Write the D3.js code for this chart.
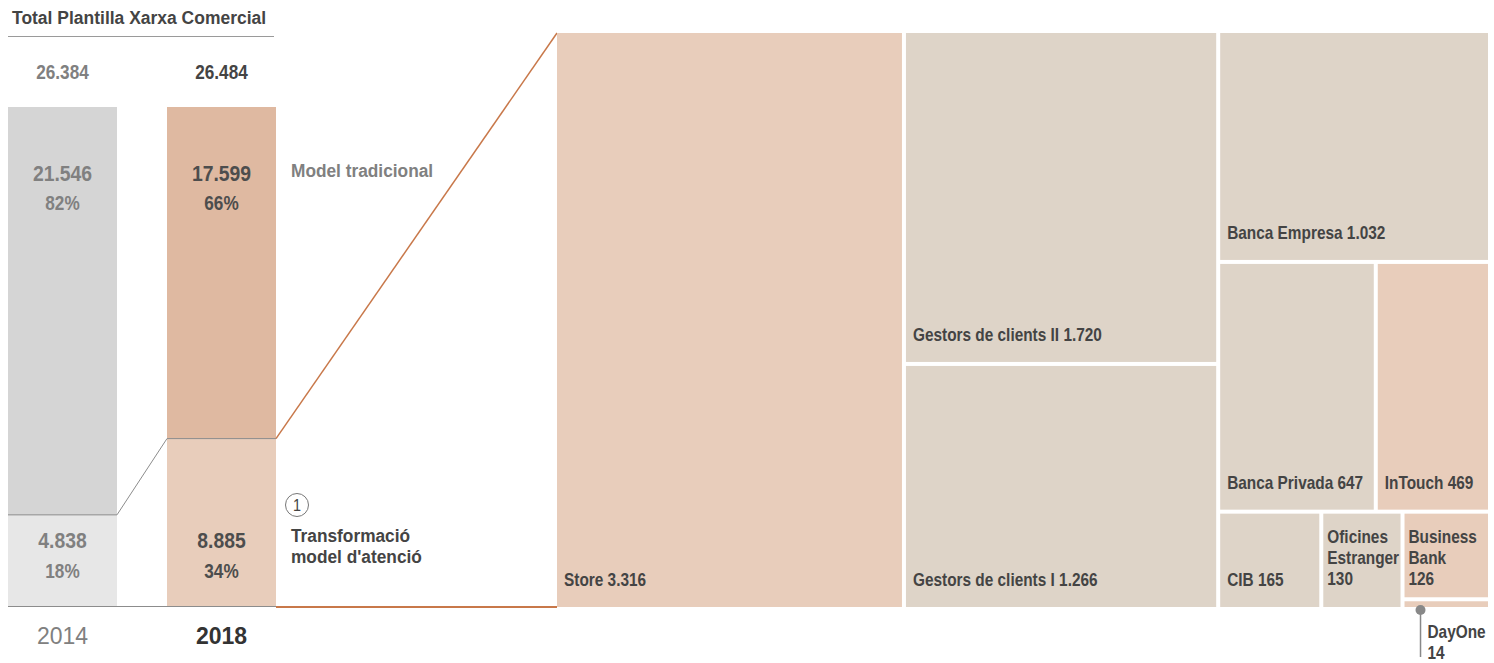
<!DOCTYPE html>
<html>
<head>
<meta charset="utf-8">
<script src="https://cdn.jsdelivr.net/npm/d3@7/dist/d3.min.js"></script>
<style>
  html, body { margin: 0; padding: 0; background: #fff; }
  svg { display: block; }
  text { font-family: "Liberation Sans", Arial, sans-serif; }
</style>
</head>
<body>
<svg id="chart" width="1494" height="663"></svg>
<script>
// ---------- data ----------
const title = "Total Plantilla Xarxa Comercial";
const years = ["2014", "2018"];
const totals = [26384, 26484];
const traditional = [21546, 17599];
const transformed = [4838, 8885];
const traditionalPct = ["82%", "66%"];
const transformedPct = ["18%", "34%"];
const traditionalLabel = "Model tradicional";
const transformedLabel = ["Transformació", "model d'atenció"];

const tmNames  = ["Store", "Gestors de clients II", "Gestors de clients I", "Banca Empresa",
                  "Banca Privada", "InTouch", "CIB", "Oficines Estranger", "Business Bank", "DayOne"];
const tmValues = [3316, 1720, 1266, 1032, 647, 469, 165, 130, 126, 14];
const tmModel  = ["new", "trad", "trad", "trad", "trad", "new", "trad", "trad", "new", "new"];

// ---------- helpers ----------
const loc = d3.formatLocale({decimal: ",", thousands: ".", grouping: [3], currency: ["", ""]});
const fmt = loc.format(",");

const svg = d3.select("#chart");
const dark = "#444444", gray = "#808080";

// text with horizontal condensing (emulates a narrow face)
function label(parent, x, y, str, size, weight, fill, anchor, sx) {
  return parent.append("text")
    .attr("transform", `translate(${x},${y}) scale(${sx == null ? 0.86 : sx},1)`)
    .attr("font-size", size).attr("font-weight", weight || "bold")
    .attr("fill", fill || dark).attr("text-anchor", anchor || "start")
    .text(str);
}

// ---------- left: stacked bars ----------
const x = d3.scaleBand().domain(years).range([8, 276]).paddingInner(0.3145).paddingOuter(0);
const y = d3.scaleLinear().domain([0, d3.max(totals)]).range([606, 107]);

label(svg, 12, 24, title, 19, "bold", dark, "start", 0.92);
svg.append("line").attr("x1", 8).attr("x2", 274).attr("y1", 36.5).attr("y2", 36.5)
  .attr("stroke", "#9a9a9a").attr("stroke-width", 1);

const barColors = {
  "2014": {top: "#d5d5d5", bottom: "#e7e7e7", text: gray},
  "2018": {top: "#dfb9a1", bottom: "#e8cdbb", text: "#4d4d4d"}
};

years.forEach((yr, i) => {
  const bx = x(yr), bw = x.bandwidth(), cx = bx + bw / 2;
  const c = barColors[yr];
  const yDiv = y(transformed[i]);
  svg.append("rect").attr("x", bx).attr("y", yDiv).attr("width", bw).attr("height", y(0) - yDiv).attr("fill", c.bottom);
  svg.append("rect").attr("x", bx).attr("y", 107).attr("width", bw).attr("height", yDiv - 107).attr("fill", c.top);
  label(svg, cx, 79, fmt(totals[i]), 20, "bold", i === 0 ? gray : dark, "middle", 0.86);
  label(svg, cx, 181, fmt(traditional[i]), 22, "bold", c.text, "middle", 0.88);
  label(svg, cx, 210, traditionalPct[i], 20, "bold", c.text, "middle", 0.86);
  label(svg, cx, 548, fmt(transformed[i]), 22, "bold", c.text, "middle", 0.88);
  label(svg, cx, 578, transformedPct[i], 20, "bold", c.text, "middle", 0.86);
  label(svg, cx, 644, yr, 23, i === 0 ? "normal" : "bold", i === 0 ? gray : "#333", "middle", 1);
});

const b0 = x(years[0]), b1 = x(years[1]), bw = x.bandwidth();
const d0 = y(transformed[0]), d1 = y(transformed[1]);
svg.append("path")
  .attr("d", `M${b0},${d0}H${b0 + bw}L${b1},${d1}H${b1 + bw}`)
  .attr("fill", "none").attr("stroke", "#8c8c8c").attr("stroke-width", 1);
svg.append("line").attr("x1", 8).attr("x2", b1 + bw).attr("y1", 606.5).attr("y2", 606.5)
  .attr("stroke", "#8c8c8c").attr("stroke-width", 1);

label(svg, 291, 177, traditionalLabel, 19, "bold", gray, "start", 0.91);
svg.append("circle").attr("cx", 297).attr("cy", 505).attr("r", 11.5)
  .attr("fill", "#fff").attr("stroke", "#777").attr("stroke-width", 1);
label(svg, 297, 511, "1", 16, "normal", "#444", "middle", 0.9);
transformedLabel.forEach((t, k) => label(svg, 291, 542 + k * 21, t, 19, "bold", dark, "start", 0.91));

// ---------- right: treemap ----------
const tm = {x0: 557, y0: 33, x1: 1488, y1: 607};
const leaf = i => ({name: tmNames[i], value: tmValues[i], model: tmModel[i]});
const treeData = {children: [
  leaf(0),
  {children: [leaf(1), leaf(2)]},
  {children: [
    leaf(3),
    {children: [leaf(4), leaf(5)]},
    {children: [leaf(6), leaf(7), {children: [leaf(8), leaf(9)]}]}
  ]}
]};
const root = d3.hierarchy(treeData).sum(d => d.children ? 0 : d.value);
d3.treemap().size([tm.x1 - tm.x0, tm.y1 - tm.y0]).tile(d3.treemapSliceDice).paddingInner(4)(root);

const orange = "#c8784a";
svg.append("line").attr("x1", b1 + bw).attr("y1", d1).attr("x2", tm.x0).attr("y2", tm.y0)
  .attr("stroke", orange).attr("stroke-width", 1.5);
svg.append("line").attr("x1", b1 + bw).attr("y1", 607).attr("x2", tm.x0).attr("y2", 607)
  .attr("stroke", orange).attr("stroke-width", 2);

const g = svg.append("g").attr("transform", `translate(${tm.x0},${tm.y0})`);
const leaves = root.leaves();
g.selectAll("rect").data(leaves).join("rect")
  .attr("x", d => d.x0).attr("y", d => d.y0)
  .attr("width", d => d.x1 - d.x0).attr("height", d => d.y1 - d.y0)
  .attr("fill", d => d.data.model === "new" ? "#e8cdbb" : "#ded4c8");

const TM_SX = 0.855;
leaves.forEach(d => {
  const w = d.x1 - d.x0, h = d.y1 - d.y0;
  const labelText = d.data.name + " " + fmt(d.data.value);
  if (h < 20) {
    const cx = d.x0 + 16, cy = d.y1 + 3;
    g.append("line").attr("x1", cx).attr("x2", cx).attr("y1", cy).attr("y2", 657 - tm.y0)
      .attr("stroke", "#888").attr("stroke-width", 1.5);
    g.append("circle").attr("cx", cx).attr("cy", cy).attr("r", 5).attr("fill", "#888");
    [d.data.name, fmt(d.data.value)].forEach((t, k) =>
      label(g, cx + 7, 638 - tm.y0 + k * 21, t, 18, "bold", dark, "start", TM_SX));
    return;
  }
  const bottom = (d.parent && d.parent.depth === 3) ? d.parent.y1 : d.y1;
  const pad = 7;
  const t = label(g, d.x0 + pad, bottom - 21, labelText, 18, "bold", dark, "start", TM_SX);
  if (t.node().getComputedTextLength() * TM_SX > w - pad - 2) {
    t.remove();
    const lines = labelText.split(" ");
    const px = w < 90 ? 4 : 9;
    lines.forEach((ln, k) =>
      label(g, d.x0 + px, bottom - 22 - (lines.length - 1 - k) * 21, ln, 18, "bold", dark, "start", TM_SX));
  }
});
</script>
</body>
</html>
